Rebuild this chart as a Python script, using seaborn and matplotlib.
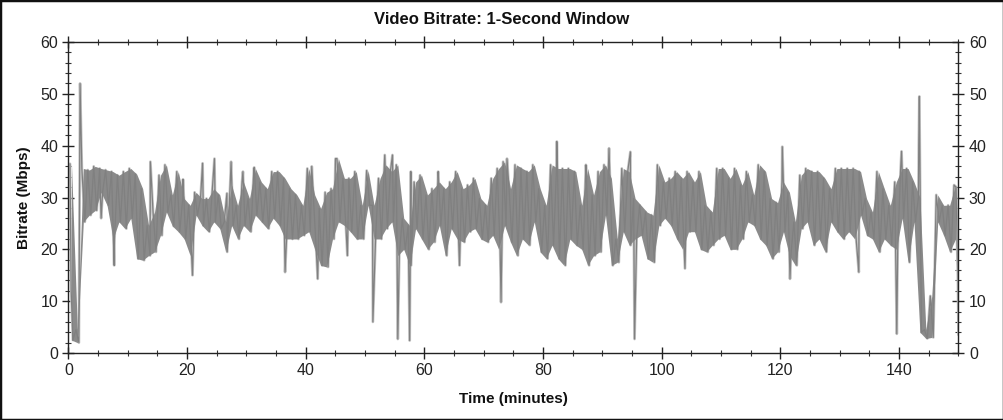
"""Video bitrate trace, 1-second window (values read per minute)."""
import numpy as np
import pandas as pd
import matplotlib
matplotlib.use("Agg")
import matplotlib.pyplot as plt
import seaborn as sns
from matplotlib.ticker import MultipleLocator

# per-minute band: upper and lower edge of the trace (Mbps), minutes 0..149
HIGH = [
    36.5, 4.5, 35.6, 35.3, 36.0, 35.6, 35.3, 35.0, 34.3, 35.0,
    35.6, 34.5, 31.7, 24.6, 27.2, 34.3, 36.3, 30.5, 35.0, 29.8,
    28.5, 31.0, 29.8, 29.8, 31.7, 30.5, 25.3, 32.4, 28.5, 33.0,
    29.8, 35.6, 33.0, 31.7, 35.0, 35.0, 33.7, 31.7, 30.5, 28.5,
    35.6, 30.5, 27.9, 31.0, 31.7, 37.5, 33.7, 33.7, 35.0, 28.5,
    35.2, 28.5, 33.7, 36.3, 35.0, 36.3, 26.0, 24.6, 33.0, 34.3,
    30.5, 31.7, 33.0, 31.7, 33.0, 35.0, 31.7, 32.4, 33.7, 29.8,
    28.5, 33.7, 35.6, 36.9, 31.7, 36.3, 35.6, 35.0, 36.3, 31.7,
    28.5, 36.3, 35.6, 35.6, 35.6, 35.0, 28.5, 35.6, 30.5, 35.0,
    36.3, 33.7, 22.0, 35.6, 35.0, 29.8, 28.5, 27.2, 26.6, 36.3,
    33.0, 33.7, 35.0, 33.7, 35.0, 33.0, 35.0, 28.5, 27.2, 35.6,
    35.6, 33.7, 35.6, 32.4, 35.0, 30.5, 36.3, 35.0, 29.8, 29.0,
    33.0, 31.0, 25.3, 34.3, 35.6, 35.0, 35.0, 33.7, 31.7, 35.6,
    35.6, 35.6, 35.6, 35.0, 29.8, 27.2, 35.0, 31.7, 28.5, 33.0,
    35.6, 35.6, 33.0, 30.0, 4.5, 11.0, 30.5, 28.5, 28.5, 32.4,
]
LOW = [
    2.5, 2.0, 25.3, 26.6, 27.5, 31.0, 28.5, 22.0, 25.3, 24.0,
    26.0, 18.2, 17.9, 18.8, 19.5, 22.7, 27.2, 24.5, 23.4, 22.0,
    18.8, 26.6, 24.6, 23.4, 25.3, 24.0, 19.5, 24.6, 22.0, 24.6,
    23.4, 26.6, 25.3, 24.0, 26.0, 24.6, 22.0, 22.0, 22.0, 22.7,
    23.4, 20.0, 16.9, 16.6, 22.0, 25.3, 24.6, 23.4, 22.0, 22.0,
    28.5, 22.0, 22.0, 24.0, 25.3, 18.8, 20.0, 16.9, 24.0, 22.0,
    20.0, 21.4, 24.6, 18.8, 24.0, 22.0, 21.4, 23.4, 24.0, 22.0,
    21.4, 22.7, 20.0, 24.6, 21.4, 18.8, 22.0, 20.8, 25.3, 19.5,
    18.2, 20.8, 18.2, 16.9, 22.0, 20.8, 20.0, 16.9, 18.8, 19.5,
    26.6, 16.9, 17.5, 23.4, 20.8, 22.0, 22.7, 18.2, 17.5, 24.6,
    26.0, 24.6, 22.0, 20.0, 23.4, 23.4, 20.0, 19.5, 20.8, 22.0,
    22.7, 20.0, 20.0, 22.0, 25.3, 24.6, 22.0, 20.8, 18.2, 19.5,
    23.4, 18.8, 16.9, 24.0, 25.3, 20.8, 22.0, 19.5, 25.3, 23.4,
    22.0, 23.4, 22.0, 26.6, 22.7, 22.0, 19.5, 22.0, 20.8, 20.0,
    26.0, 17.5, 25.3, 4.0, 2.8, 3.0, 25.3, 22.7, 19.5, 22.0,
]

# isolated one-second spikes and drops
SPIKE_T = [0.45, 1.95, 5.5, 7.7, 13.8, 19.3, 20.9, 22.6, 24.6, 26.7, 27.4,
           29.4, 31.3, 36.5, 41.0, 42.0, 45.0, 47.0, 51.3, 53.3, 54.6, 55.5,
           57.5, 57.7, 62.3, 65.9, 72.9, 73.9, 82.3, 87.2, 91.1, 94.7, 95.4,
           103.9, 120.3, 121.6, 133.2, 139.6, 140.4, 143.3, 143.4, 149.6,
           149.9, 150.0]
SPIKE_V = [12.0, 52.0, 26.0, 16.9, 36.9, 33.5, 15.0, 36.6, 37.5, 30.8, 36.9,
           35.0, 35.8, 15.6, 36.0, 14.3, 37.5, 18.8, 6.0, 38.2, 38.2, 2.7,
           2.4, 35.0, 35.0, 16.9, 9.8, 37.5, 40.8, 36.3, 39.5, 38.8, 2.7,
           16.3, 39.8, 14.3, 15.6, 3.7, 38.9, 40.0, 49.5, 32.0,
           14.0, 3.5]

TITLE = "Video Bitrate: 1-Second Window"
XLABEL = "Time (minutes)"
YLABEL = "Bitrate (Mbps)"


def build_trace():
    minutes = np.arange(len(HIGH))
    top = pd.DataFrame({"time": minutes + 0.25, "bitrate": HIGH})
    bottom = pd.DataFrame({"time": minutes + 0.75, "bitrate": LOW})
    spikes = pd.DataFrame({"time": SPIKE_T, "bitrate": SPIKE_V})
    trace = pd.concat([top, bottom, spikes], ignore_index=True)
    return trace.sort_values("time", kind="stable").reset_index(drop=True)


def main():
    sns.set_style("ticks")
    plt.rcParams["font.family"] = ["Liberation Sans", "DejaVu Sans"]

    fig = plt.figure(figsize=(10.04, 4.20), dpi=100)
    ax = fig.add_axes([68.5 / 1004, 1 - 353 / 420, 890 / 1004, 311 / 420])

    trace = build_trace()
    band = pd.DataFrame({"time": np.arange(len(HIGH)) + 0.5, "low": LOW, "high": HIGH})
    # light halo underneath, solid core band, darker trace on top
    sns.lineplot(data=trace, x="time", y="bitrate", ax=ax, sort=False,
                 color="#c8c8c8", lw=2.0, estimator=None, zorder=1)
    ax.fill_between(band["time"], band["low"], band["high"], color="#8a8a8a",
                    lw=0, zorder=2)
    sns.lineplot(data=trace, x="time", y="bitrate", ax=ax, sort=False,
                 color="#808080", lw=0.9, estimator=None, zorder=3)

    ax.set_xlim(0, 150)
    ax.set_ylim(0, 60)
    ax.xaxis.set_major_locator(MultipleLocator(20))
    ax.xaxis.set_minor_locator(MultipleLocator(5))
    ax.yaxis.set_major_locator(MultipleLocator(10))
    ax.yaxis.set_minor_locator(MultipleLocator(2))
    ax.tick_params(which="major", direction="inout", length=9, width=1,
                   top=True, right=True, labelright=True, labelsize=11.5,
                   colors="#222222", pad=3)
    ax.tick_params(which="minor", direction="inout", length=5, width=0.8,
                   top=True, right=True, colors="#333333")
    for side in ax.spines.values():
        side.set_visible(True)
        side.set_color("#222222")
        side.set_linewidth(1)

    ax.set_xlabel(XLABEL, fontsize=11, fontweight="bold", color="#111111")
    ax.set_ylabel(YLABEL, fontsize=11, fontweight="bold", color="#111111")
    ax.xaxis.set_label_coords(0.5, -0.125)
    ax.yaxis.set_label_coords(-0.042, 0.5)
    fig.text(0.5, 1 - 20 / 420, TITLE, ha="center", va="center",
             fontsize=12, fontweight="bold", color="#111111")

    fig.add_artist(plt.Rectangle((0, 0), 1, 1, transform=fig.transFigure,
                                 fill=False, edgecolor="#111111", lw=2.5))
    fig.savefig("out.png", dpi=100, facecolor="white")
    plt.close(fig)


if __name__ == "__main__":
    main()
